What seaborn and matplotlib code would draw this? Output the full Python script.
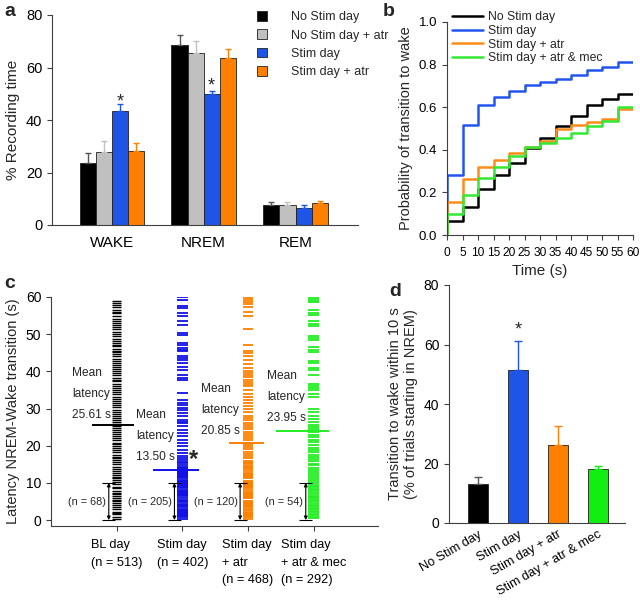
import matplotlib
matplotlib.use("Agg")
import matplotlib.pyplot as plt
import numpy as np
import pandas as pd
import seaborn as sns

sns.set_style("ticks")
plt.rcParams['font.family'] = ['Liberation Sans', 'DejaVu Sans']
plt.rcParams['axes.edgecolor'] = '#404040'
plt.rcParams['axes.linewidth'] = 0.8
plt.rcParams['xtick.color'] = '#404040'
plt.rcParams['ytick.color'] = '#404040'
plt.rcParams['xtick.labelcolor'] = 'black'
plt.rcParams['ytick.labelcolor'] = 'black'

# ---------------- data ----------------
# panel a
states = ["WAKE", "NREM", "REM"]
conds_a = ["No Stim day", "No Stim day + atr", "Stim day", "Stim day + atr"]
colors_a = ["#000000", "#c0c0c0", "#1f55e6", "#ff8000"]
mean_a = {
    "No Stim day":       [23.8, 68.4, 7.7],
    "No Stim day + atr": [27.8, 65.7, 7.7],
    "Stim day":          [43.6, 49.9, 6.3],
    "Stim day + atr":    [28.2, 63.7, 8.4],
}
err_a = {
    "No Stim day":       [3.8, 4.1, 1.0],
    "No Stim day + atr": [4.3, 4.4, 1.1],
    "Stim day":          [2.4, 1.3, 1.3],
    "Stim day + atr":    [3.2, 3.2, 0.9],
}

# panel b (cumulative probability, 5 s bins)
time_b = [0, 5, 10, 15, 20, 25, 30, 35, 40, 45, 50, 55, 60]
conds_b = ["No Stim day", "Stim day", "Stim day + atr", "Stim day + atr & mec"]
colors_b = ["#000000", "#2255ee", "#ff8c1a", "#33e833"]
prob_nostim = [0.065, 0.133, 0.215, 0.28, 0.337, 0.408, 0.455, 0.51, 0.56, 0.61, 0.64, 0.66, 0.66]
prob_stim = [0.28, 0.518, 0.61, 0.646, 0.675, 0.705, 0.72, 0.734, 0.753, 0.773, 0.787, 0.812, 0.812]
prob_atr = [0.154, 0.263, 0.317, 0.353, 0.384, 0.415, 0.44, 0.50, 0.515, 0.53, 0.545, 0.59, 0.59]
prob_mec = [0.097, 0.188, 0.267, 0.32, 0.37, 0.415, 0.43, 0.455, 0.478, 0.51, 0.533, 0.60, 0.60]

# panel c (latencies, s)
lat_bl = [0.4, 0.9, 1.5, 2.0, 2.3, 2.9, 3.4, 4.0, 4.6, 5.1, 5.5, 5.8, 6.4, 7.0, 7.3, 7.9,
          8.5, 9.0, 9.6, 10.2, 10.8, 11.2, 11.5, 12.1, 12.7, 13.3, 13.8, 14.4, 15.0, 15.6,
          16.1, 16.7, 17.0, 17.6, 18.2, 18.8, 19.3, 19.9, 20.4, 20.8, 21.4, 22.0, 22.5, 23.1,
          23.7, 24.2, 24.8, 25.4, 25.9, 26.5, 27.0, 27.4, 28.0, 28.6, 29.1, 29.7, 30.3, 30.9,
          31.5, 32.0, 32.6, 33.2, 33.8, 34.4, 35.0, 35.6, 36.1, 36.7, 37.3, 37.8, 38.3, 38.9,
          39.5, 40.1, 40.6, 41.1, 41.6, 42.2, 42.8, 43.4, 44.0, 44.6, 45.1, 45.5, 46.1, 46.7,
          47.2, 47.6, 48.2, 48.8, 49.4, 50.0, 50.6, 51.3, 52.0, 52.6, 53.1, 53.5, 54.2, 54.9,
          55.6, 56.0, 56.5, 57.2, 57.9, 58.5, 59.0]
lat_stim = [0.4, 0.7, 1.0, 1.3, 1.6, 1.9, 2.2, 2.5, 2.8, 3.1, 3.4, 3.7, 4.0, 4.3, 4.9, 5.2,
            5.5, 5.8, 6.4, 6.7, 7.0, 7.3, 7.6, 7.9, 8.2, 8.5, 8.8, 9.1, 9.4, 9.7, 10.0, 10.3,
            10.6, 10.9, 11.2, 11.5, 11.8, 12.1, 12.4, 12.7, 13.0, 13.3, 13.6, 13.9, 14.2,
            14.8, 15.3, 15.7, 16.2, 16.6, 17.1, 18.0, 18.9, 19.8, 20.7, 21.6, 22.5, 23.4, 24.3,
            25.2, 26.1, 26.5, 27.0, 27.9, 28.8, 29.6, 30.1, 31.0, 31.4, 32.3, 34.1, 37.7, 38.2,
            39.1, 40.4, 41.3, 42.2, 43.1, 43.6, 44.0, 45.4, 45.8, 46.3, 47.2, 47.6, 49.9, 50.3,
            52.6, 53.5, 55.0, 55.7, 57.0, 57.7, 59.3, 60.0]
lat_atr = [0.4, 0.7, 1.0, 1.3, 1.6, 1.9, 2.2, 2.8, 3.1, 3.4, 3.7, 4.0, 4.3, 4.6, 4.9, 5.2,
           5.8, 6.1, 6.4, 6.7, 7.0, 7.3, 7.6, 8.2, 8.5, 8.8, 9.1, 9.4, 9.7, 10.0, 10.3, 10.6,
           11.2, 11.5, 11.8, 12.1, 12.4, 12.7, 13.3, 13.6, 13.9, 14.2, 14.5, 15.1, 15.4, 15.7,
           16.0, 16.6, 17.2, 17.8, 18.4, 19.0, 19.6, 20.2, 20.8, 21.4, 22.0, 22.6, 23.2, 23.8,
           24.4, 25.0, 25.6, 26.2, 26.8, 27.4, 28.0, 29.0, 30.0, 30.8, 31.6, 32.4, 33.2, 34.0,
           35.0, 36.0, 36.6, 37.2, 37.8, 38.4, 39.0, 39.6, 40.2, 41.0, 42.0, 43.0, 44.0, 45.0,
           45.6, 47.0, 51.5, 55.0, 56.0, 57.2, 58.0, 58.6, 59.2, 59.8]
lat_mec = [0.5, 0.9, 1.3, 1.7, 2.1, 2.5, 2.9, 3.3, 3.7, 4.1, 4.5, 5.0, 5.4, 5.8, 6.2, 6.6,
           7.0, 7.5, 8.0, 8.4, 8.8, 9.2, 9.6, 10.2, 10.8, 11.3, 11.8, 12.4, 13.0, 13.5, 14.1,
           14.7, 15.2, 15.8, 16.4, 17.0, 17.6, 18.2, 18.9, 19.5, 20.2, 20.9, 21.6, 22.3, 23.0,
           23.7, 24.4, 25.0, 25.7, 26.3, 27.2, 28.0, 29.2, 30.0, 33.2, 33.8, 35.0, 35.5, 36.0,
           36.5, 39.0, 40.3, 40.8, 42.2, 42.8, 45.2, 45.8, 46.5, 48.3, 48.9, 49.5, 52.2, 52.8,
           53.5, 55.2, 55.8, 56.4, 58.6, 59.0, 59.5, 60.0]
groups_c = ["BL day\n(n = 513)", "Stim day\n(n = 402)", "Stim day\n+ atr\n(n = 468)",
            "Stim day\n+ atr & mec\n(n = 292)"]
colors_c = ["#000000", "#1010e8", "#ff8000", "#22ee22"]
mean_lat = [25.61, 13.50, 20.85, 23.95]
n_within10 = [68, 205, 120, 54]

# panel d
groups_d = ["No Stim day", "Stim day", "Stim day + atr", "Stim day + atr & mec"]
colors_d = ["#000000", "#1f55e6", "#ff8000", "#11ee11"]
mean_d = [13.0, 51.5, 26.1, 18.3]
err_d = [2.5, 9.6, 6.4, 0.9]

# ---------------- figure ----------------
W, H = 640, 601
fig = plt.figure(figsize=(6.4, 6.01), dpi=100)


def px_axes(left, top, right, bottom):
    return fig.add_axes([left / W, 1 - bottom / H, (right - left) / W, (bottom - top) / H])


def style(ax):
    sns.despine(ax=ax)
    ax.tick_params(direction='out', length=3.5, width=0.8)


# ---- panel a ----
ax_a = px_axes(52, 15, 358, 225)
df_a = pd.DataFrame([(s, c, mean_a[c][i]) for c in conds_a for i, s in enumerate(states)],
                    columns=["state", "cond", "value"])
sns.barplot(data=df_a, x="state", y="value", hue="cond", hue_order=conds_a,
            palette=colors_a, saturation=1, width=0.7, errorbar=None,
            edgecolor="#202020", linewidth=0.6, ax=ax_a)
for cont, c in zip(ax_a.containers, conds_a):
    xs = [b.get_x() + b.get_width() / 2 for b in cont]
    col = colors_a[conds_a.index(c)]
    ax_a.errorbar(xs, mean_a[c], yerr=[[0] * 3, err_a[c]], fmt='none',
                  ecolor="#555555" if col == "#000000" else col, elinewidth=1, capsize=2.5)
stim_x = [b.get_x() + b.get_width() / 2 for b in ax_a.containers[2]]
ax_a.text(stim_x[0], 47.0, "*", ha='center', va='center', fontsize=13)
ax_a.text(stim_x[1], 53.0, "*", ha='center', va='center', fontsize=13)
ax_a.set_xlim(-0.65, 2.68)
ax_a.set_ylim(0, 80)
ax_a.set_yticks([0, 20, 40, 60, 80])
ax_a.set_xlabel("")
ax_a.set_ylabel("% Recording time", fontsize=11)
ax_a.tick_params(axis='y', labelsize=10.5)
ax_a.tick_params(axis='x', labelsize=11, length=0, pad=8)
style(ax_a)
ax_a.tick_params(axis='x', length=0)
leg = ax_a.legend(loc='upper left', bbox_to_anchor=(257 / W, 1 - 11 / H),
                  bbox_transform=fig.transFigure, frameon=False, fontsize=9,
                  handlelength=0.8, handleheight=0.8, handletextpad=1.9,
                  labelspacing=0.5, borderpad=0, borderaxespad=0)

# ---- panel b ----
ax_b = px_axes(447, 22, 633, 235)
df_b = pd.DataFrame({
    "time": [0] + time_b + [0] + time_b + [0] + time_b + [0] + time_b,
    "prob": [0.0] + prob_nostim + [0.0] + prob_stim + [0.0] + prob_atr + [0.0] + prob_mec,
    "cond": sum([[c] * (len(time_b) + 1) for c in conds_b], []),
})
sns.lineplot(data=df_b, x="time", y="prob", hue="cond", hue_order=conds_b,
             palette=colors_b, estimator=None, sort=False, drawstyle='steps-post',
             linewidth=1.8, ax=ax_b)
ax_b.set_xlim(0, 60)
ax_b.set_ylim(0, 1.0)
ax_b.set_xticks(time_b)
ax_b.set_yticks([0.0, 0.2, 0.4, 0.6, 0.8, 1.0])
ax_b.set_yticklabels(["0.0", "0.2", "0.4", "0.6", "0.8", "1.0"])
ax_b.tick_params(axis='x', labelsize=8.6, pad=5)
ax_b.tick_params(axis='y', labelsize=9.5)
ax_b.set_xlabel("Time (s)", fontsize=11)
ax_b.set_ylabel("Probability of transition to wake", fontsize=10.5)
style(ax_b)
ax_b.legend(loc='upper left', bbox_to_anchor=(452 / W, 1 - 11 / H),
            bbox_transform=fig.transFigure, frameon=False, fontsize=8.8,
            handlelength=2.5, handletextpad=0.45, labelspacing=0.15,
            borderpad=0, borderaxespad=0)

# ---- panel c ----
ax_c = px_axes(51, 297, 378, 526)
ax_c.eventplot([lat_bl, lat_stim, lat_atr, lat_mec], orientation='vertical',
               lineoffsets=[1, 2, 3, 4], linelengths=[0.13, 0.17, 0.15, 0.16],
               colors=colors_c, linewidths=[1.0, 1.3, 1.3, 1.3])
line_left = [0.62, 1.56, 2.71, 3.42]
line_right = [1.26, 2.26, 3.24, 4.24]
text_x = [0.32, 1.30, 2.29, 3.29]
text_y = [34.0, 22.5, 29.6, 33.1]
for i in range(4):
    ax_c.hlines(mean_lat[i], line_left[i], line_right[i], colors=colors_c[i], lw=1.4)
    ax_c.text(text_x[i], text_y[i],
              "Mean\nlatency\n%.2f s" % mean_lat[i], ha='left', va='center',
              fontsize=8.6, linespacing=2.0)
    xa = i + 1 - 0.12
    ax_c.annotate("", xy=(xa, 0), xytext=(xa, 10),
                  arrowprops=dict(arrowstyle='<|-|>', lw=0.8, color='black',
                                  mutation_scale=5, shrinkA=0, shrinkB=0))
    ax_c.hlines([0, 10], xa - 0.1, xa + 0.1, colors='black', lw=0.8)
    ax_c.text(xa - 0.04, 4.8, "(n = %d)" % n_within10[i], ha='right', va='center',
              fontsize=7.8)
ax_c.text(2.17, 16.2, "*", ha='center', va='center', fontsize=17, fontweight='bold')
ax_c.set_xlim(0, 4.98)
ax_c.set_ylim(-1.6, 60)
ax_c.set_yticks([0, 10, 20, 30, 40, 50, 60])
ax_c.set_xticks([1, 2, 3, 4])
ax_c.set_xticklabels(groups_c, fontsize=9.2, multialignment='left', linespacing=1.6)
ax_c.tick_params(axis='y', labelsize=10)
ax_c.set_ylabel("Latency NREM-Wake transition (s)", fontsize=10.5)
style(ax_c)
ax_c.tick_params(axis='x', pad=6)

# ---- panel d ----
ax_d = px_axes(449, 285, 625, 523)
sns.barplot(x=groups_d, y=mean_d, hue=groups_d, palette=colors_d, saturation=1,
            legend=False, width=0.5, edgecolor="#202020", linewidth=0.6, ax=ax_d)
for i in range(4):
    ax_d.errorbar(i, mean_d[i], yerr=[[0], [err_d[i]]], fmt='none',
                  ecolor="#555555" if i == 0 else colors_d[i], elinewidth=1, capsize=3)
ax_d.text(1, 65, "*", ha='center', va='center', fontsize=13)
ax_d.set_xlim(-0.72, 3.68)
ax_d.set_ylim(0, 80)
ax_d.set_yticks([0, 20, 40, 60, 80])
ax_d.tick_params(axis='y', labelsize=10)
ax_d.set_xticks([0, 1, 2, 3])
ax_d.set_xticklabels(groups_d, rotation=30, ha='right', rotation_mode='anchor',
                     fontsize=9.2)
ax_d.set_ylabel("Transition to wake within 10 s\n(% of trials starting in NREM)",
                fontsize=10.5)
style(ax_d)
ax_d.tick_params(axis='x', length=0, pad=4)

# panel letters
for lab, x, y in [("a", 4, 12), ("b", 383, 12), ("c", 4, 283), ("d", 389, 292)]:
    fig.text(x / W, 1 - y / H, lab, fontsize=14, fontweight='bold', ha='left', va='center')

fig.savefig("out.png", dpi=100)
